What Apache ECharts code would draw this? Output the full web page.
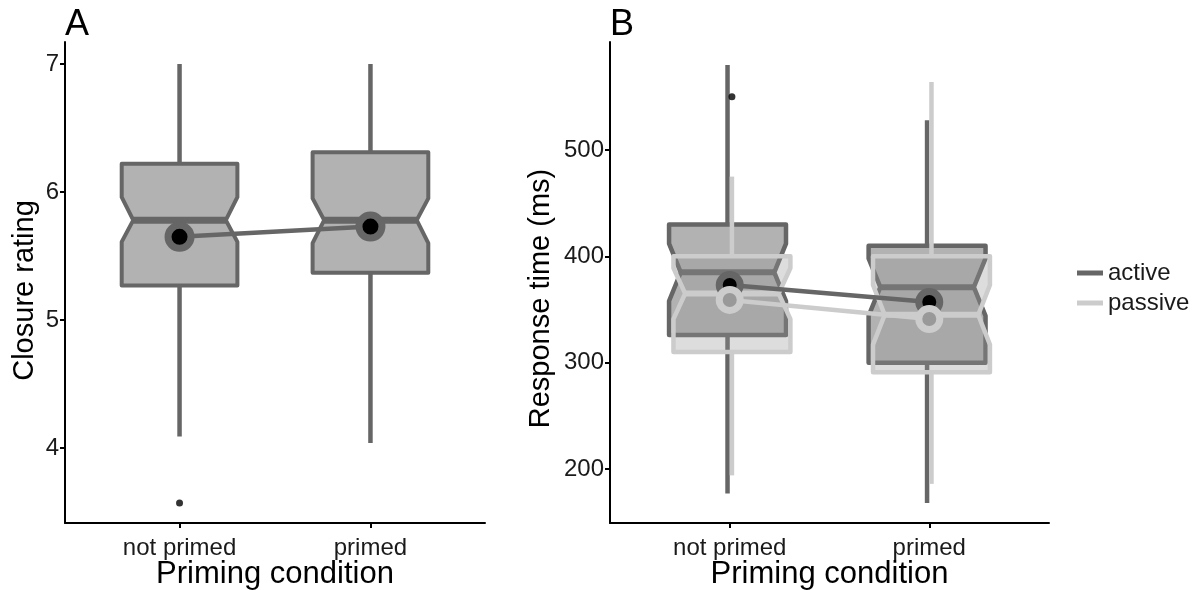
<!DOCTYPE html>
<html>
<head>
<meta charset="utf-8">
<script src="https://cdn.jsdelivr.net/npm/echarts@6/dist/echarts.min.js"></script>
<style>
  html, body { margin: 0; padding: 0; background: #ffffff; }
  #chart { width: 1199px; height: 590px; }
</style>
</head>
<body>
<div id="chart"></div>
<script>
// ---- data -------------------------------------------------------------
const categories = ['not primed', 'primed'];

// A: closure rating by priming condition
const closureWhiskerLow  = [4.09, 4.04];
const closureQ1          = [5.27, 5.37];
const closureMedian      = [5.78, 5.78];
const closureQ3          = [6.22, 6.31];
const closureWhiskerHigh = [7.00, 7.00];
const closureNotchLow    = [5.61, 5.60];
const closureNotchHigh   = [5.96, 5.95];
const closureMean        = [5.65, 5.73];
const closureOutliers    = [[3.57], []];

// B: response time (ms), active vs passive
const activeWhiskerLow  = [177, 168];
const activeQ1          = [326, 300];
const activeMedian      = [385, 371];
const activeQ3          = [430, 410];
const activeWhiskerHigh = [580, 528];
const activeNotchLow    = [358, 344];
const activeNotchHigh   = [412, 398];
const activeMean        = [373, 357];
const activeOutliers    = [[], []];

const passiveWhiskerLow  = [194, 186];
const passiveQ1          = [310, 291];
const passiveMedian      = [365, 345];
const passiveQ3          = [400, 400];
const passiveWhiskerHigh = [475, 564];
const passiveNotchLow    = [341, 317];
const passiveNotchHigh   = [389, 373];
const passiveMean        = [359, 341];
const passiveOutliers    = [[550], []];

const closureTicks  = [4, 5, 6, 7];
const responseTicks = [200, 300, 400, 500];
const groupNames    = ['active', 'passive'];

// ---- helpers ----------------------------------------------------------
const FONT = '"Liberation Sans", Arial, Helvetica, sans-serif';
const categoryPositions = categories.map((c, i) => i + 1);

function boxRows(lo, q1, med, q3, hi, nLo, nHi) {
  return categories.map((c, i) => [i + 1, lo[i], q1[i], med[i], q3[i], hi[i], nLo[i], nHi[i]]);
}
function meanRows(m) {
  return categories.map((c, i) => [i + 1, m[i]]);
}
function outlierRows(groups) {
  const rows = [];
  groups.forEach((vals, i) => vals.forEach(v => rows.push([i + 1, v])));
  return rows;
}

// notched box with whiskers, drawn through the axis scales
function notchedBox(o) {
  return function (params, api) {
    const x = api.value(0);
    const lo = api.value(1), q1 = api.value(2), med = api.value(3);
    const q3 = api.value(4), hi = api.value(5), nLo = api.value(6), nHi = api.value(7);
    const y = v => api.coord([x, v])[1];
    const cx = api.coord([x, med])[0] + o.dodge;
    const hw = api.size([o.halfWidth, 0])[0];
    const nw = hw * o.notchRatio;
    const pts = [
      [cx - hw, y(q3)], [cx + hw, y(q3)], [cx + hw, y(nHi)], [cx + nw, y(med)],
      [cx + hw, y(nLo)], [cx + hw, y(q1)], [cx - hw, y(q1)], [cx - hw, y(nLo)],
      [cx - nw, y(med)], [cx - hw, y(nHi)]
    ];
    const wStyle = { stroke: o.stroke, lineWidth: o.whiskerWidth, lineCap: 'butt' };
    return {
      type: 'group',
      children: [
        { type: 'line', shape: { x1: cx, y1: y(q3), x2: cx, y2: y(hi) }, style: wStyle },
        { type: 'line', shape: { x1: cx, y1: y(q1), x2: cx, y2: y(lo) }, style: wStyle },
        { type: 'polygon', shape: { points: pts },
          style: { fill: o.fill, stroke: o.stroke, lineWidth: o.lineWidth, lineJoin: 'round' } },
        { type: 'line', shape: { x1: cx - nw, y1: y(med), x2: cx + nw, y2: y(med) },
          style: { stroke: o.stroke, lineWidth: o.medianWidth, lineCap: 'butt' } }
      ]
    };
  };
}

function boxSeries(name, axisIdx, rows, o) {
  return {
    type: 'custom', name: name, xAxisIndex: axisIdx, yAxisIndex: axisIdx,
    renderItem: notchedBox(o), data: rows, silent: true,
    encode: { x: 0, y: [1, 2, 3, 4, 5] }
  };
}
function meanSeries(name, axisIdx, rows, lineColor, dotColor, ringColor, size) {
  return {
    type: 'line', name: name, xAxisIndex: axisIdx, yAxisIndex: axisIdx,
    data: rows, symbol: 'circle', symbolSize: size, showSymbol: true, silent: true,
    lineStyle: { color: lineColor, width: 4.5 },
    itemStyle: { color: dotColor, borderColor: ringColor, borderWidth: 7 },
    emphasis: { disabled: true }, z: 5
  };
}
function outlierSeries(axisIdx, rows, dodge) {
  return {
    type: 'scatter', xAxisIndex: axisIdx, yAxisIndex: axisIdx, data: rows,
    symbol: 'circle', symbolSize: 7, symbolOffset: [dodge, 0], silent: true,
    itemStyle: { color: '#000000' }, z: 6
  };
}

const labelStyle = { color: '#1a1a1a', fontSize: 24, fontFamily: FONT };
const xNameStyle = { color: '#000000', fontSize: 31, fontFamily: FONT };

function xAxisFor(gridIndex) {
  return {
    type: 'value', gridIndex: gridIndex, min: 0.4, max: 2.6,
    name: 'Priming condition', nameLocation: 'middle', nameGap: 36, nameTextStyle: xNameStyle,
    nameMoveOverlap: false,
    axisLine: { onZero: false, lineStyle: { color: '#000', width: 2 } },
    axisTick: { customValues: categoryPositions, length: 5, lineStyle: { color: '#000', width: 2 } },
    axisLabel: Object.assign({ customValues: categoryPositions, margin: 13,
      formatter: v => categories[Math.round(v) - 1] }, labelStyle),
    splitLine: { show: false }
  };
}
function yAxisFor(gridIndex, min, max, ticks, name, gap, shiftDown) {
  return {
    type: 'value', gridIndex: gridIndex, min: min, max: max,
    name: name, nameLocation: 'middle', nameRotate: 90, nameGap: gap,
    nameTextStyle: { color: '#000000', fontSize: 29, fontFamily: FONT,
                     padding: [0, shiftDown * 2, 0, 0] },
    axisLine: { show: true, onZero: false, lineStyle: { color: '#000', width: 2 } },
    axisTick: { show: true, customValues: ticks, length: 5, lineStyle: { color: '#000', width: 2 } },
    axisLabel: Object.assign({ customValues: ticks, margin: 6 }, labelStyle),
    splitLine: { show: false }
  };
}

// ---- chart ------------------------------------------------------------
const chart = echarts.init(document.getElementById('chart'), null, { renderer: 'canvas' });

chart.setOption({
  animation: false,
  backgroundColor: '#ffffff',
  title: [
    { text: 'A', left: 65, top: 7, padding: 0,
      textStyle: { fontSize: 36, fontWeight: 'normal', color: '#000', fontFamily: FONT } },
    { text: 'B', left: 610, top: 7, padding: 0,
      textStyle: { fontSize: 36, fontWeight: 'normal', color: '#000', fontFamily: FONT } }
  ],
  legend: {
    orient: 'vertical', left: 1077, top: 261, padding: 0,
    itemWidth: 26, itemHeight: 5, itemGap: 6, icon: 'rect',
    itemStyle: { borderWidth: 0 },
    textStyle: { color: '#1a1a1a', fontSize: 24, fontFamily: FONT },
    selectedMode: false,
    data: [
      { name: groupNames[0], itemStyle: { color: '#666666', borderWidth: 0 } },
      { name: groupNames[1], itemStyle: { color: '#cccccc', borderWidth: 0 } }
    ]
  },
  grid: [
    { left: 65, top: 42, width: 420, height: 481, outerBoundsMode: 'none', containLabel: false },
    { left: 610, top: 42, width: 439, height: 481, outerBoundsMode: 'none', containLabel: false }
  ],
  xAxis: [xAxisFor(0), xAxisFor(1)],
  yAxis: [
    yAxisFor(0, 3.414, 7.172, closureTicks, 'Closure rating', 26, 8),
    yAxisFor(1, 149.2, 601.6, responseTicks, 'Response time (ms)', 55, 16)
  ],
  series: [
    boxSeries('closure', 0,
      boxRows(closureWhiskerLow, closureQ1, closureMedian, closureQ3, closureWhiskerHigh,
              closureNotchLow, closureNotchHigh),
      { dodge: 0, halfWidth: 0.303, notchRatio: 0.8, stroke: '#666666',
        fill: 'rgba(102,102,102,0.5)', lineWidth: 4, whiskerWidth: 4.5, medianWidth: 7 }),
    outlierSeries(0, outlierRows(closureOutliers), 0),
    meanSeries('closure mean', 0, meanRows(closureMean), '#666666', '#000000', '#666666', 23),

    boxSeries('active box', 1,
      boxRows(activeWhiskerLow, activeQ1, activeMedian, activeQ3, activeWhiskerHigh,
              activeNotchLow, activeNotchHigh),
      { dodge: -2.2, halfWidth: 0.293, notchRatio: 0.8, stroke: '#666666',
        fill: 'rgba(102,102,102,0.5)', lineWidth: 4.5, whiskerWidth: 4.5, medianWidth: 6 }),
    boxSeries('passive box', 1,
      boxRows(passiveWhiskerLow, passiveQ1, passiveMedian, passiveQ3, passiveWhiskerHigh,
              passiveNotchLow, passiveNotchHigh),
      { dodge: 2.2, halfWidth: 0.293, notchRatio: 0.8, stroke: '#cccccc',
        fill: 'rgba(150,150,150,0.32)', lineWidth: 4.5, whiskerWidth: 4.5, medianWidth: 6 }),
    outlierSeries(1, outlierRows(activeOutliers), -2.2),
    outlierSeries(1, outlierRows(passiveOutliers), 2.2),
    meanSeries(groupNames[0], 1, meanRows(activeMean), '#666666', '#000000', '#666666', 21),
    meanSeries(groupNames[1], 1, meanRows(passiveMean), '#cccccc', '#999999', '#cccccc', 21)
  ]
});
</script>
</body>
</html>
